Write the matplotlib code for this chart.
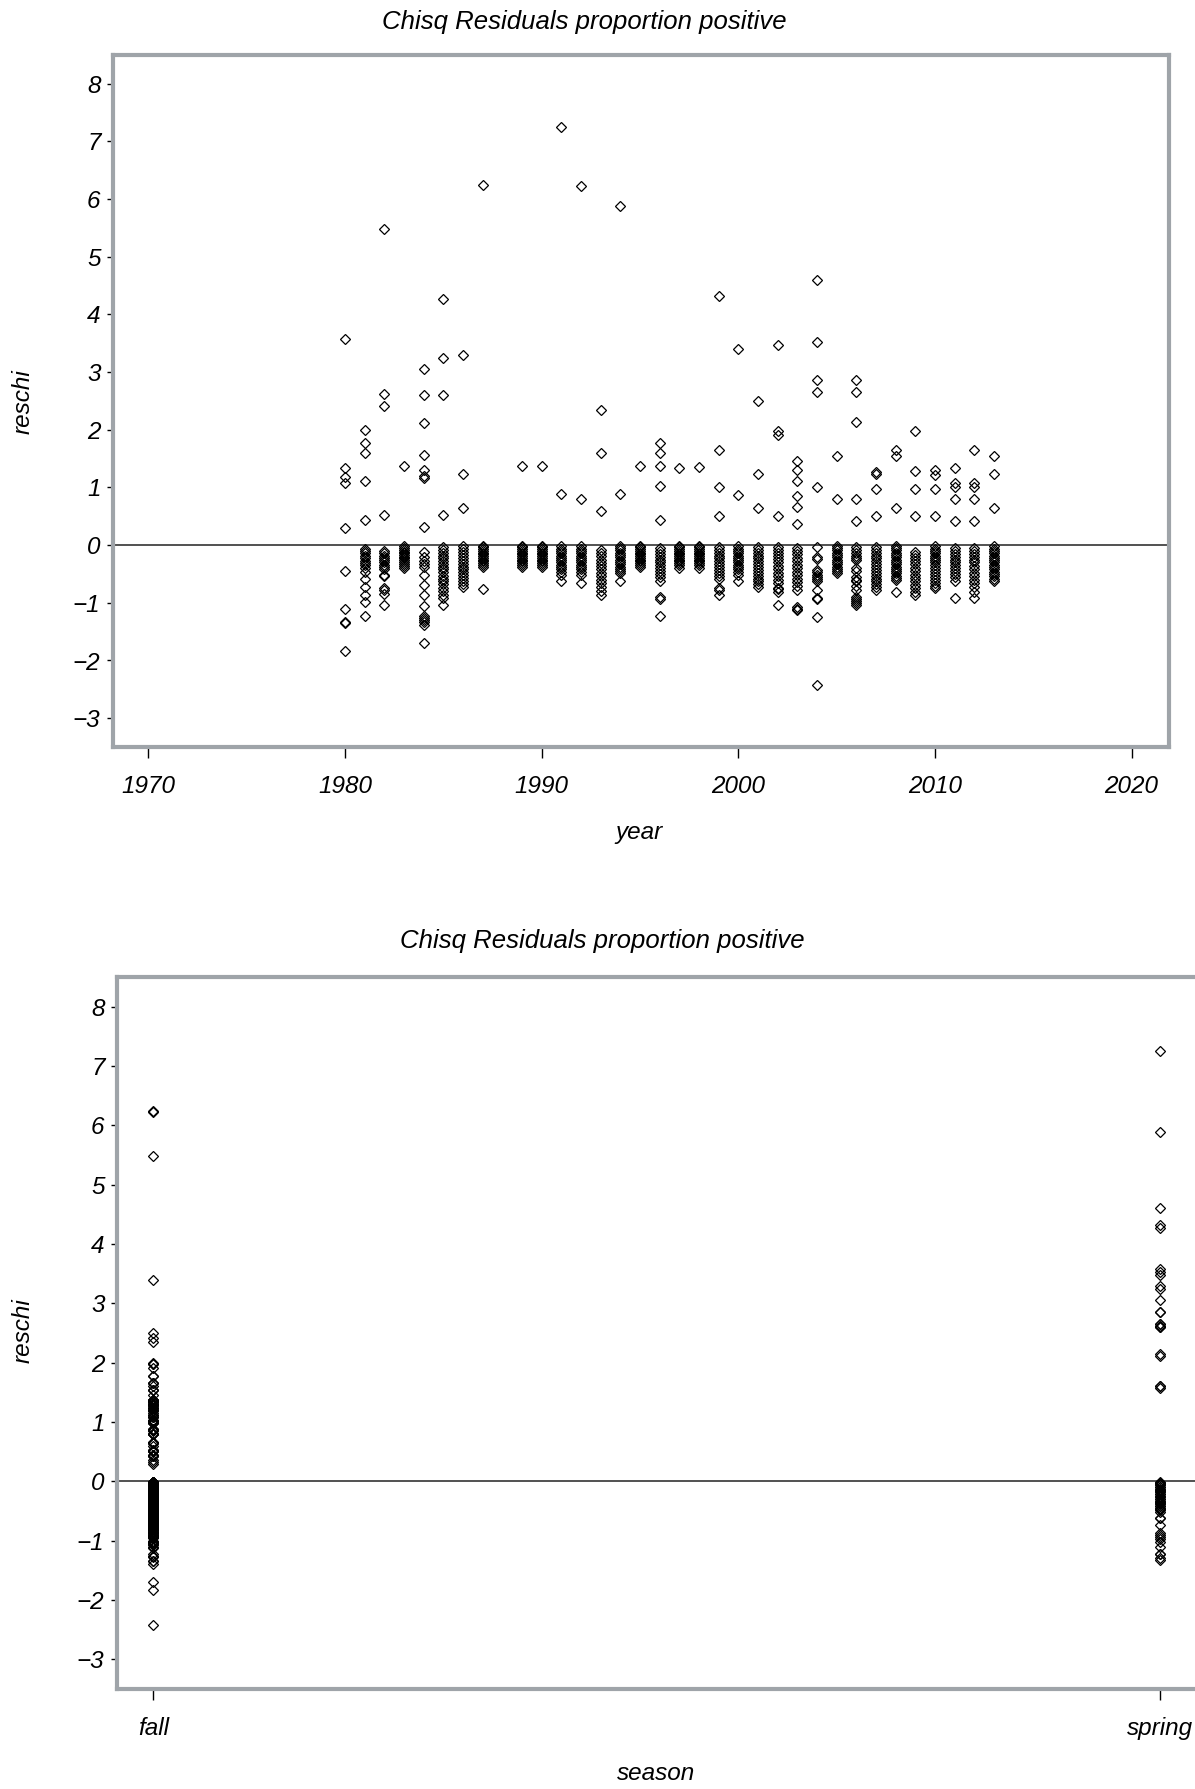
import matplotlib
matplotlib.use("Agg")
import matplotlib.pyplot as plt

# ---------------- data ----------------
years = [1980, 1981, 1982, 1983, 1984, 1985, 1986, 1987, 1989, 1990, 1991,
         1992, 1993, 1994, 1995, 1996, 1997, 1998, 1999, 2000, 2001, 2002,
         2003, 2004, 2005, 2006, 2007, 2008, 2009, 2010, 2011, 2012, 2013]

# residuals of the fall survey, one list per year (same order as `years`)
fall_reschi = [
    [1.34, 1.18, 1.08, 0.29, -0.45, -1.35, -1.83],                              # 1980
    [2.00, 1.78, 1.11, 0.44, -0.06, -0.10, -0.14, -0.18, -0.22, -0.27, -0.31,
     -0.35, -0.40, -0.46, -0.58, -0.72, -0.87],                                 # 1981
    [5.48, 2.42, 0.52, -0.10, -0.14, -0.18, -0.22, -0.26, -0.30, -0.34, -0.38,
     -0.42, -0.52, -0.54, -0.77, -0.84],                                        # 1982
    [1.37, -0.02, -0.05, -0.08, -0.11, -0.14, -0.17, -0.20, -0.23, -0.26,
     -0.30, -0.33, -0.36, -0.40],                                               # 1983
    [1.30, 1.20, 1.16, 0.32, -0.12, -0.20, -0.27, -0.33, -0.38, -0.52, -0.69,
     -1.05, -1.27, -1.34, -1.39, -1.70],                                        # 1984
    [0.52, -0.03, -0.08, -0.13, -0.18, -0.22, -0.27, -0.32, -0.37, -0.42,
     -0.47, -0.53, -0.58, -0.63, -0.68, -0.74, -0.80, -0.86, -0.92, -1.03],     # 1985
    [1.24, 0.65, -0.02, -0.07, -0.12, -0.17, -0.22, -0.27, -0.32, -0.37,
     -0.42, -0.47, -0.52, -0.57, -0.62, -0.68, -0.72],                          # 1986
    [6.25, -0.01, -0.04, -0.07, -0.10, -0.13, -0.16, -0.19, -0.22, -0.25,
     -0.28, -0.31, -0.34, -0.38, -0.76],                                        # 1987
    [1.37, -0.01, -0.04, -0.07, -0.10, -0.13, -0.16, -0.19, -0.22, -0.25,
     -0.28, -0.31, -0.34, -0.38],                                               # 1989
    [1.37, -0.01, -0.04, -0.07, -0.10, -0.13, -0.16, -0.19, -0.22, -0.25,
     -0.28, -0.31, -0.34, -0.38],                                               # 1990
    [0.88],                                                                     # 1991
    [6.22, 0.80, -0.02, -0.06, -0.10, -0.14, -0.18, -0.22, -0.26, -0.30,
     -0.34, -0.38, -0.42, -0.47, -0.52, -0.66],                                 # 1992
    [2.35, 0.59, -0.09, -0.14, -0.19, -0.25, -0.31, -0.36, -0.42, -0.48,
     -0.54, -0.60, -0.66, -0.72, -0.79, -0.87],                                 # 1993
    [0.88],                                                                     # 1994
    [1.37, -0.01, -0.04, -0.07, -0.10, -0.13, -0.16, -0.19, -0.22, -0.25,
     -0.28, -0.31, -0.34, -0.38],                                               # 1995
    [1.78, 1.60, 1.37, 1.03, 0.44, -0.05, -0.10, -0.15, -0.20, -0.25, -0.30,
     -0.35, -0.40, -0.45, -0.50, -0.56, -0.63, -1.23],                          # 1996
    [1.34, -0.01, -0.04, -0.07, -0.10, -0.13, -0.16, -0.19, -0.22, -0.25,
     -0.28, -0.31, -0.35, -0.40],                                               # 1997
    [1.36, -0.01, -0.04, -0.07, -0.10, -0.13, -0.16, -0.19, -0.22, -0.25,
     -0.28, -0.31, -0.35, -0.40],                                               # 1998
    [1.65, 1.01, 0.51, -0.03, -0.08, -0.13, -0.18, -0.23, -0.28, -0.33,
     -0.38, -0.43, -0.48, -0.53, -0.58, -0.74, -0.77, -0.87],                   # 1999
    [3.40, 0.87, -0.02, -0.06, -0.10, -0.14, -0.18, -0.22, -0.26, -0.30,
     -0.34, -0.38, -0.42, -0.47, -0.52, -0.62],                                 # 2000
    [2.50, 1.23, 0.64, -0.03, -0.08, -0.13, -0.18, -0.23, -0.28, -0.33,
     -0.38, -0.43, -0.48, -0.53, -0.58, -0.63, -0.68, -0.72],                   # 2001
    [1.98, 1.91, 0.51, -0.03, -0.08, -0.13, -0.18, -0.24, -0.30, -0.36,
     -0.42, -0.48, -0.54, -0.60, -0.66, -0.74, -0.76, -0.81, -1.03],            # 2002
    [1.46, 1.31, 1.11, 0.85, 0.66, 0.36, -0.05, -0.10, -0.16, -0.22, -0.28,
     -0.34, -0.40, -0.46, -0.52, -0.58, -0.64, -0.70, -0.78, -1.08, -1.10,
     -1.12],                                                                    # 2003
    [1.01, -0.03, -0.21, -0.24, -0.43, -0.47, -0.51, -0.55, -0.59, -0.63,
     -0.78, -0.91, -0.94, -1.25, -2.42],                                        # 2004
    [1.54, 0.80, -0.01, -0.05, -0.09, -0.13, -0.17, -0.21, -0.25, -0.29,
     -0.33, -0.37, -0.41, -0.45, -0.49],                                        # 2005
    [0.80, 0.42, -0.03, -0.08, -0.13, -0.18, -0.23, -0.26, -0.40, -0.45,
     -0.55, -0.60, -0.62, -0.70, -0.78, -0.90, -0.93, -0.96, -1.00, -1.04],     # 2006
    [1.27, 1.23, 0.98, 0.51, -0.03, -0.08, -0.13, -0.18, -0.23, -0.28, -0.33,
     -0.38, -0.43, -0.48, -0.53, -0.58, -0.63, -0.68, -0.73, -0.78],            # 2007
    [1.65, 1.54, 0.64, -0.01, -0.05, -0.09, -0.13, -0.17, -0.21, -0.25,
     -0.29, -0.33, -0.37, -0.41, -0.45, -0.49, -0.53, -0.57, -0.61, -0.82],     # 2008
    [1.98, 1.29, 0.98, 0.51, -0.12, -0.17, -0.22, -0.27, -0.33, -0.39, -0.45,
     -0.51, -0.57, -0.63, -0.69, -0.75, -0.81, -0.87],                          # 2009
    [1.31, 1.21, 0.98, 0.51, -0.02, -0.06, -0.10, -0.14, -0.18, -0.22, -0.26,
     -0.30, -0.35, -0.40, -0.45, -0.50, -0.55, -0.60, -0.65, -0.70, -0.75],     # 2010
    [1.33, 1.08, 1.01, 0.80, 0.42, -0.05, -0.10, -0.15, -0.20, -0.25, -0.30,
     -0.35, -0.40, -0.45, -0.50, -0.56, -0.63, -0.91],                          # 2011
    [1.65, 1.08, 1.01, 0.80, 0.42, -0.05, -0.10, -0.15, -0.20, -0.25, -0.30,
     -0.36, -0.42, -0.48, -0.54, -0.60, -0.66, -0.72, -0.81, -0.91],            # 2012
    [1.54, 1.23, 0.64, -0.02, -0.06, -0.10, -0.14, -0.18, -0.22, -0.26,
     -0.30, -0.34, -0.38, -0.42, -0.46, -0.50, -0.54, -0.58, -0.63],            # 2013
]

# residuals of the spring survey, one list per year (same order as `years`)
spring_reschi = [
    [3.58, -1.10, -1.33],                                                       # 1980
    [1.60, -0.98, -1.23],                                                       # 1981
    [2.62, -0.74, -1.03],                                                       # 1982
    [],                                                                         # 1983
    [3.06, 2.60, 2.11, 1.57, -0.87, -1.22, -1.30],                              # 1984
    [4.27, 3.24, 2.60],                                                         # 1985
    [3.29],                                                                     # 1986
    [],                                                                         # 1987
    [],                                                                         # 1989
    [],                                                                         # 1990
    [7.25, -0.02, -0.06, -0.10, -0.14, -0.18, -0.22, -0.26, -0.30, -0.34,
     -0.38, -0.42, -0.47, -0.52, -0.62],                                        # 1991
    [],                                                                         # 1992
    [1.60],                                                                     # 1993
    [5.89, -0.01, -0.05, -0.09, -0.13, -0.17, -0.21, -0.25, -0.29, -0.33,
     -0.37, -0.41, -0.45, -0.49, -0.62],                                        # 1994
    [],                                                                         # 1995
    [-0.90, -0.93],                                                             # 1996
    [],                                                                         # 1997
    [],                                                                         # 1998
    [4.32],                                                                     # 1999
    [],                                                                         # 2000
    [],                                                                         # 2001
    [3.47],                                                                     # 2002
    [],                                                                         # 2003
    [4.60, 3.52, 2.86, 2.65],                                                   # 2004
    [],                                                                         # 2005
    [2.86, 2.65, 2.14],                                                         # 2006
    [], [], [], [], [], [], [],                                                 # 2007-2013
]

season_labels = ["fall", "spring"]
year_ticks = [1970, 1980, 1990, 2000, 2010, 2020]
reschi_ticks = [-3, -2, -1, 0, 1, 2, 3, 4, 5, 6, 7, 8]
title_text = "Chisq Residuals proportion positive"

# ---------------- flatten ----------------
rows = []  # (year, season index, value)
for yr, fv, sv in zip(years, fall_reschi, spring_reschi):
    rows += [(yr, 0, v) for v in fv]
    rows += [(yr, 1, v) for v in sv]
all_year = [r[0] for r in rows]
all_season = [r[1] for r in rows]
all_val = [r[2] for r in rows]

# ---------------- styling ----------------
W, H = 1195, 1789
FONT = "Liberation Sans"
FS = 17.5
FS_TITLE = 18.5
FRAME = "#9fa4a9"
plt.rcParams["font.family"] = [FONT, "DejaVu Sans"]
plt.rcParams["font.style"] = "italic"

fig = plt.figure(figsize=(W / 100, H / 100), dpi=100)

marker_kw = dict(linestyle="none", marker="D", markersize=4.6,
                 markerfacecolor="none", markeredgecolor="black",
                 markeredgewidth=0.9, antialiased=False)


def style_axes(ax):
    for s in ax.spines.values():
        s.set_color(FRAME)
        s.set_linewidth(3.0)
    ax.axhline(0, color="#222222", linewidth=1.1, zorder=1)
    ax.set_ylim(-3.5, 8.5)
    ax.set_yticks(reschi_ticks)
    ax.tick_params(axis="y", length=4, width=1.0, color="black", pad=5,
                   labelsize=FS)
    ax.tick_params(axis="x", length=8, width=1.0, color="black", pad=12,
                   labelsize=FS)
    for lab in ax.get_xticklabels() + ax.get_yticklabels():
        lab.set_fontstyle("italic")


def px_axes(left, top, right, bottom):
    return fig.add_axes([left / W, 1 - bottom / H, (right - left) / W,
                         (bottom - top) / H])


# top panel: by year
ax1 = px_axes(113, 55, 1169, 747)
ax1.plot(all_year, all_val, **marker_kw, zorder=3)
ax1.set_xlim(1968.2, 2021.9)
ax1.set_xticks(year_ticks)
style_axes(ax1)

# bottom panel: by season
ax2 = px_axes(117, 977, 1197, 1689)
ax2.plot(all_season, all_val, **marker_kw, zorder=3)
ax2.set_xlim(-0.036, 1.037)
ax2.set_xticks([0, 1])
ax2.set_xticklabels(season_labels)
style_axes(ax2)

# titles and axis labels (placed in figure pixels)
def ftext(x, y, s, size=FS, **kw):
    fig.text(x / W, 1 - y / H, s, ha="center", va="center", fontsize=size,
             style="italic", **kw)

ftext(584, 22, title_text, size=FS_TITLE)
ftext(602, 941, title_text, size=FS_TITLE)
ftext(23, 402, "reschi", rotation=90)
ftext(23, 1331, "reschi", rotation=90)
ftext(639, 833, "year")
ftext(656, 1774, "season")

fig.savefig("out.png", dpi=100)
